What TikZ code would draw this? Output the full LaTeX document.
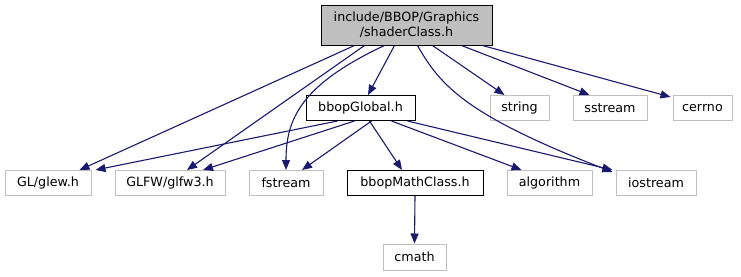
\documentclass[tikz,border=0pt]{standalone}
\usepackage{fontspec}
\setmainfont{DejaVu Sans}
\usetikzlibrary{arrows.meta}
\definecolor{edgeblue}{HTML}{191970}
\definecolor{leafgray}{HTML}{BFBFBF}
\tikzset{
  filebox/.style={draw=black, line width=1pt, inner sep=0pt, minimum height=25pt,
    font=\fontsize{12.7}{15}\selectfont, text=black},
  leafbox/.style={filebox, draw=leafgray},
  rootbox/.style={filebox, fill=leafgray, align=center, minimum height=40pt},
  dep/.style={draw=edgeblue, line width=1.1pt,
    -{Triangle[length=10pt,width=8pt,fill=edgeblue]}},
}
\begin{document}
\begin{tikzpicture}[x=1pt,y=-1pt]
\useasboundingbox (0,0) rectangle (741,276);

% header files
\node[rootbox, minimum width=171pt] (shader) at (406.5,25) {include/BBOP/Graphics\\/shaderClass.h};
\node[filebox, minimum width=109pt] (global) at (360.5,108) {bbopGlobal.h};
\node[filebox, minimum width=136pt] (math) at (415,183) {bbopMathClass.h};

% system and library headers
\node[leafbox, minimum width=59pt] (string) at (519.5,108) {string};
\node[leafbox, minimum width=74pt] (sstream) at (610,108) {sstream};
\node[leafbox, minimum width=59pt] (cerrno) at (702.5,108) {cerrno};
\node[leafbox, minimum width=86pt] (glew) at (48,183) {GL/glew.h};
\node[leafbox, minimum width=110pt] (glfw) at (170,183) {GLFW/glfw3.h};
\node[leafbox, minimum width=74pt] (fstream) at (286,183) {fstream};
\node[leafbox, minimum width=85pt] (algorithm) at (549.5,183) {algorithm};
\node[leafbox, minimum width=80pt] (iostream) at (656,183) {iostream};
\node[leafbox, minimum width=63pt, minimum height=26pt] (cmath) at (414.5,257) {cmath};

% includes of shaderClass.h
\draw[dep] ([xshift=34pt]shader.south west) -- ([xshift=-12pt]glew.north east);
\draw[dep] ([xshift=44pt]shader.south west) -- ([xshift=17pt]glfw.north);
\draw[dep] ([xshift=64pt]shader.south west) .. controls (300,85) and (286,120) .. (fstream.north);
\draw[dep] ([xshift=74pt]shader.south west) -- ([xshift=7.5pt]global.north);
\draw[dep] ([xshift=97pt]shader.south west) .. controls (440,85) and (465,115) .. ([xshift=-3pt,yshift=-2pt]iostream.north west);
\draw[dep] ([xshift=112pt]shader.south west) -- ([xshift=15pt]string.north west);
\draw[dep] ([xshift=141pt]shader.south west) -- ([xshift=17pt]sstream.north west);
\draw[dep] ([xshift=162pt]shader.south west) -- ([xshift=-2pt,yshift=-2pt]cerrno.north west);

% includes of bbopGlobal.h
\draw[dep] ([xshift=32pt]global.south west) -- ([xshift=4pt]glew.north east);
\draw[dep] ([xshift=49pt]global.south west) -- ([xshift=33pt]glfw.north);
\draw[dep] ([xshift=66pt]global.south west) -- ([xshift=16pt]fstream.north);
\draw[dep] ([xshift=64pt]global.south west) -- ([xshift=-13pt]math.north);
\draw[dep] ([xshift=86pt]global.south west) -- ([xshift=15pt]algorithm.north west);
\draw[dep] ([xshift=102pt]global.south west) -- ([xshift=-3pt]iostream.north west);

% includes of bbopMathClass.h
\draw[dep] (math.south) -- (cmath.north);
\end{tikzpicture}
\end{document}
